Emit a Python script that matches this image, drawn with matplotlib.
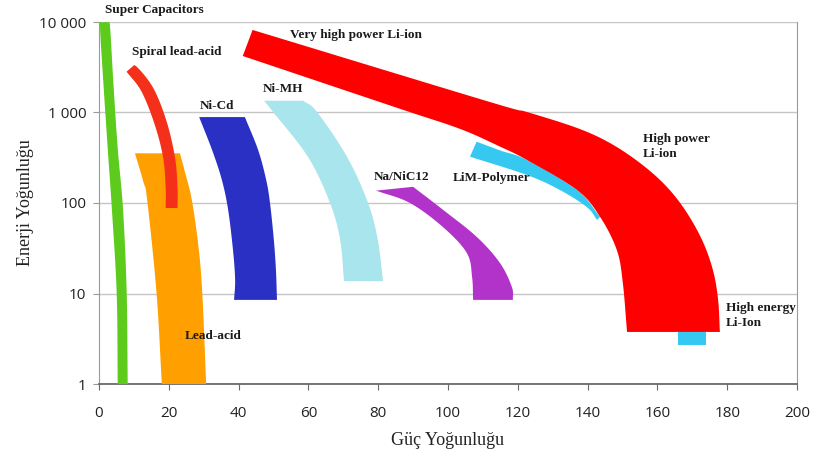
import matplotlib
matplotlib.use("Agg")
import numpy as np
import matplotlib.pyplot as plt
from matplotlib.ticker import FixedLocator, NullLocator

# ---------------- data ----------------
x_ticks = [0, 20, 40, 60, 80, 100, 120, 140, 160, 180, 200]
y_ticks = [1, 10, 100, 1000, 10000]
y_tick_labels = ["1", "10", "100", "1 000", "10 000"]

# Super capacitors (left / right boundaries at given energy levels)
sc_y = [10000, 9850, 9000, 2190, 405, 84, 10, 1]
sc_left = [1.7, 0.9, 0.29, 1.23, 2.49, 3.7, 5.07, 5.36]
sc_right = [1.7, 2.5, 3.15, 4.1, 5.36, 6.9, 7.94, 8.22]

# Spiral lead-acid
sp_left_x = [7.9, 12.2, 16.0, 18.4, 19.1, 19.1]
sp_left_y = [2825, 1698, 727, 314, 146, 88]
sp_right_x = [9.3, 10.8, 15.6, 19.4, 21.8, 22.5, 22.5]
sp_right_y = [3150, 3207, 1850, 791, 314, 146, 88]

# Lead-acid
la_left_x = [10.3, 12.7, 13.8, 16.5, 18.0]
la_left_y = [354, 172, 108, 10, 1]
la_right_x = [23.2, 24.6, 26.6, 28.5, 29.6, 30.7]
la_right_y = [354, 222, 108, 33, 10, 1]

# Ni-Cd
nc_left_x = [28.7, 32.4, 35.2, 37.0, 38.4, 39.0, 38.7]
nc_left_y = [890, 385, 180, 84, 30, 14.1, 8.5]
nc_right_x = [41.8, 45.6, 47.9, 49.0, 50.1, 50.7, 51.0]
nc_right_y = [890, 385, 180, 100, 39, 18.2, 8.5]

# Ni-MH
nm_y = [1350, 1010, 322, 100, 39, 13.7]
nm_left = [47.3, 49.9, 59.9, 66.2, 69.1, 70.2]
nm_right = [58.5, 62.5, 71.1, 77.1, 79.9, 81.4]

# Na/NiCl2
na_left_x = [79.4, 89.1, 98.6, 105.4, 106.9, 107.2]
na_left_y = [137, 100, 54, 28, 15.2, 8.5]
na_right_x = [90.0, 98.6, 108.3, 114.9, 118.3, 118.6]
na_right_y = [151, 84, 42, 21.7, 11.8, 8.5]

# LiM-Polymer
lp_top_x = [108.2, 115.0, 122.6, 137.0, 143.6]
lp_top_y = [476, 380, 299, 139, 70]
lp_bot_x = [106.3, 122.6, 132.1, 139.8, 142.7]
lp_bot_y = [325, 204, 139, 90, 65]

# small LiM-Polymer patch under the Li-ion band
lp2_x = [166.0, 173.9]
lp2_y = [2.7, 4.0]

# Very high power / high power / high energy Li-ion band
li_outer_x = [44.0, 112.0, 122.6, 137.0, 146.4, 155.0, 162.2, 167.9, 172.8, 175.9, 177.4, 177.9]
li_outer_y = [8170, 1306, 1013, 674, 460, 277, 158, 84, 39, 18.2, 8.5, 3.76]
li_inner_x = [41.2, 86.2, 103.4, 114.9, 122.6, 137.0, 143.6, 148.4, 150.1, 151.3]
li_inner_y = [4210, 1100, 660, 420, 299, 139, 70, 30, 13, 3.76]

labels = ["Super Capacitors", "Spiral lead-acid", "Ni-Cd", "Ni-MH",
          "Very high power Li-ion", "Na/NiC12", "LiM-Polymer",
          "High power\nLi-ion", "High energy\nLi-Ion", "Lead-acid"]
label_x = [1.8, 9.5, 29.0, 46.8, 54.6, 78.6, 101.4, 155.9, 179.7, 24.6]
label_y = [13500, 4660, 1180, 1800, 7100, 194, 189, 421, 5.7, 3.4]

# ---------------- figure ----------------
fig = plt.figure(figsize=(8.13, 4.69), dpi=100)
ax = fig.add_axes([99/813, 1-384/469, 698/813, 362/469])
ax.set_yscale("log")
ax.set_xlim(0, 200)
ax.set_ylim(1, 10000)


def smooth_edge(xs, ys, n=12):
    """Catmull-Rom outline through the given boundary points (drawn in x / log y)."""
    px = np.asarray(xs, float)
    py = np.log10(np.asarray(ys, float))
    if len(px) < 3:
        return list(px), list(10 ** py)
    P = np.column_stack([px / 200.0 * 698, py * 90.5])  # roughly isotropic space
    P = np.vstack([2 * P[0] - P[1], P, 2 * P[-1] - P[-2]])
    out = []
    for i in range(1, len(P) - 2):
        p0, p1, p2, p3 = P[i - 1], P[i], P[i + 1], P[i + 2]
        for t in np.linspace(0, 1, n, endpoint=False):
            t2, t3 = t * t, t * t * t
            pt = 0.5 * ((2 * p1) + (-p0 + p2) * t + (2 * p0 - 5 * p1 + 4 * p2 - p3) * t2
                        + (-p0 + 3 * p1 - 3 * p2 + p3) * t3)
            out.append(pt)
    out.append(P[-2])
    out = np.array(out)
    return list(out[:, 0] * 200.0 / 698), list(10 ** (out[:, 1] / 90.5))


def band(lx, ly, rx, ry, color):
    ax_, ay_ = smooth_edge(lx, ly)
    bx_, by_ = smooth_edge(rx, ry)
    xs = ax_ + bx_[::-1]
    ys = ay_ + by_[::-1]
    ax.fill(xs, ys, color=color, lw=0, zorder=3)


band(sc_left, sc_y, sc_right, sc_y, "#5ccb1c")
band(la_left_x, la_left_y, la_right_x, la_right_y, "#ff9f00")
band(sp_left_x, sp_left_y, sp_right_x, sp_right_y, "#f4301a")
band(nc_left_x, nc_left_y, nc_right_x, nc_right_y, "#2b30c4")
band(nm_left, nm_y, nm_right, nm_y, "#a9e5ec")
band(na_left_x, na_left_y, na_right_x, na_right_y, "#b133c9")
band(lp_top_x, lp_top_y, lp_bot_x, lp_bot_y, "#35c9f2")
band([lp2_x[0], lp2_x[0]], [lp2_y[1], lp2_y[0]],
     [lp2_x[1], lp2_x[1]], [lp2_y[1], lp2_y[0]], "#35c9f2")
band(li_outer_x, li_outer_y, li_inner_x, li_inner_y, "#ff0000")

for t, x, y in zip(labels, label_x, label_y):
    ax.text(x, y, t, fontsize=9.5, family="Liberation Serif", fontweight="bold",
            color="#1a1a1a", ha="left", va="center", zorder=5,
            linespacing=1.3, clip_on=False)

# axes styling
ax.xaxis.set_major_locator(FixedLocator(x_ticks))
ax.yaxis.set_major_locator(FixedLocator(y_ticks))
ax.yaxis.set_minor_locator(NullLocator())
ax.set_yticklabels(y_tick_labels)
ax.yaxis.grid(True, color="#c6c6c6", lw=1.0)
ax.set_axisbelow(True)
for s in ["left", "right"]:
    ax.spines[s].set_color("#9a9a9a")
ax.spines["bottom"].set_color("#6a6a6a")
ax.spines["bottom"].set_linewidth(1.3)
ax.spines["top"].set_visible(False)
ax.tick_params(axis="x", direction="out", length=4, color="#6a6a6a",
               pad=12, labelsize=11, labelcolor="#222222")
ax.tick_params(axis="y", direction="out", length=4, color="#9a9a9a",
               pad=5, labelsize=11, labelcolor="#222222")
for lab in ax.get_xticklabels() + ax.get_yticklabels():
    lab.set_family("Open Sans")

ax.set_xlabel("Güç Yoğunluğu", family="Liberation Serif", fontsize=13,
              color="#222222", labelpad=8)
ax.set_ylabel("Enerji Yoğunluğu", family="Liberation Serif", fontsize=13,
              color="#222222", labelpad=4)

fig.savefig("out.png", dpi=100, facecolor="white")
